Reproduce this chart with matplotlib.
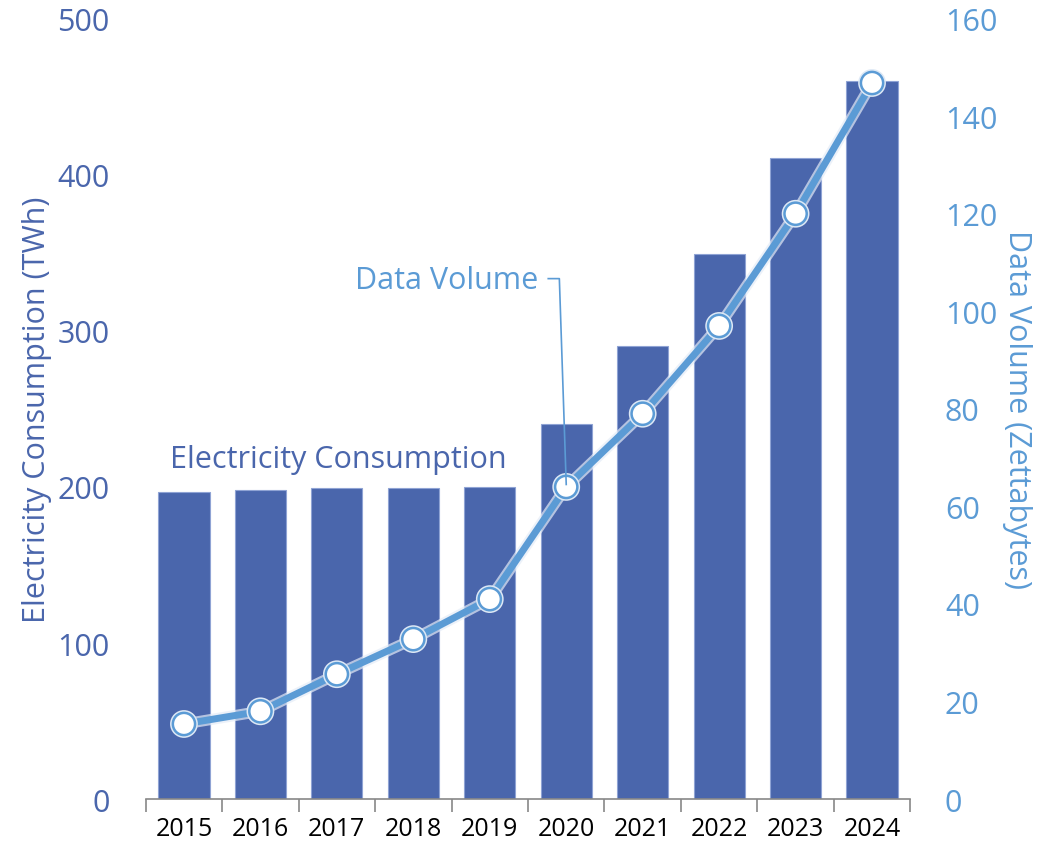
import numpy as np
import matplotlib.pyplot as plt
import matplotlib.patheffects as pe

plt.rcParams['font.family'] = ['Open Sans', 'DejaVu Sans']

# datos
years = ['2015', '2016', '2017', '2018', '2019', '2020', '2021', '2022', '2023', '2024']
electricity = [197, 198, 199, 199, 200, 240, 290, 349, 411, 460]
data_volume = [15.4, 18.0, 25.6, 32.8, 41.0, 64.0, 79.0, 97.0, 120.0, 146.8]

dark_blue = '#4a66ac'
light_blue = '#5b9bd5'

fig = plt.figure(figsize=(10.56, 8.53), dpi=100)
ax = fig.add_axes([0.138, 0.062, 0.724, 0.915])
x = np.arange(len(years))

ax.bar(x, electricity, width=0.67, color=dark_blue, edgecolor='#8fa3d4', linewidth=0.8, zorder=2)
ax.set_xlim(-0.5, len(years) - 0.5)
ax.set_ylim(0, 500)
ax.set_yticks([0, 100, 200, 300, 400, 500])
ax.set_xticks(x)
ax.set_xticklabels(years, fontsize=18, color='black')
ax.set_xticks(np.arange(-0.5, len(years), 1), minor=True)
ax.tick_params(axis='x', which='major', length=0, pad=12)
ax.tick_params(axis='x', which='minor', length=9, color='#888888', width=1.2)
ax.tick_params(axis='y', length=0, labelsize=22, labelcolor=dark_blue, pad=26)
for s in ['top', 'right', 'left']:
    ax.spines[s].set_visible(False)
ax.spines['bottom'].set_color('#888888')
ax.spines['bottom'].set_linewidth(1.2)
ax.set_ylabel('Electricity Consumption (TWh)', fontsize=22, color=dark_blue)
ax.yaxis.set_label_coords(-0.123, 0.5)

ax2 = ax.twinx()
ax2.set_ylim(0, 160)
ax2.set_yticks([0, 20, 40, 60, 80, 100, 120, 140, 160])
ax2.tick_params(axis='y', length=0, labelsize=22, labelcolor=light_blue, pad=25)
for s in ['top', 'right', 'left', 'bottom']:
    ax2.spines[s].set_visible(False)
ax2.set_ylabel('Data Volume (Zettabytes)', fontsize=22, color=light_blue, rotation=270)
ax2.yaxis.set_label_coords(1.159, 0.5)

glow = [pe.Stroke(linewidth=8, foreground='#e4ecf7', alpha=0.7), pe.Normal()]
ax2.plot(x, data_volume, color=light_blue, linewidth=5, zorder=3, path_effects=glow)
ax2.plot(x, data_volume, 'o', markersize=16, markerfacecolor='white',
         markeredgecolor=light_blue, markeredgewidth=1.8, zorder=4,
         path_effects=[pe.Stroke(linewidth=4, foreground='#dde8f5'), pe.Normal()])

ax.text(-0.18, 218, 'Electricity Consumption', fontsize=22, color=dark_blue, ha='left', va='center')
ax2.text(4.63, 106.5, 'Data Volume', fontsize=22, color=light_blue, ha='right', va='center')
ax2.plot([4.765, 4.91, 5.0], [106.7, 106.7, 64.5], color=light_blue, linewidth=1.2, zorder=5)

fig.savefig('out.png', dpi=100)
